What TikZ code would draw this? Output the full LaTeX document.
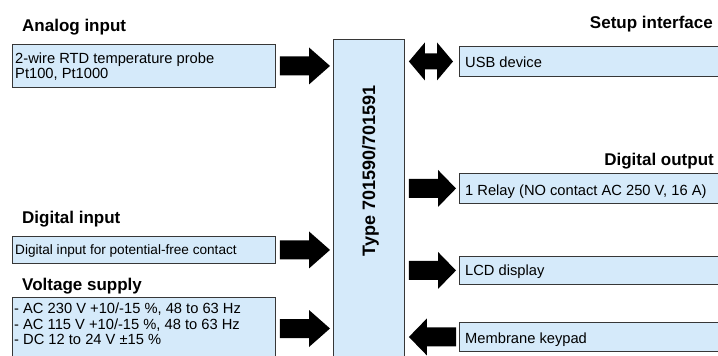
\documentclass[tikz,border=0pt]{standalone}
\usepackage{fontspec}
\setmainfont{Liberation Sans}
\usetikzlibrary{calc}
\definecolor{lblue}{RGB}{213,234,250}
\definecolor{bord}{RGB}{55,55,55}
\def\sh{9.5pt}\def\hh{18.5pt}
\tikzset{
  box/.style={draw=bord, fill=lblue, line width=0.9pt, rectangle, inner sep=0pt, anchor=north west},
  txt/.style={inner sep=0pt, anchor=base west, align=left, font=\fontsize{14.7}{15.5}\selectfont},
  stxt/.style={inner sep=0pt, anchor=base west, font=\fontsize{13.6}{15}\selectfont},
  head/.style={inner sep=0pt, font=\fontsize{17}{20}\selectfont\bfseries},
  rarr/.style={to path={let \p1=($(\tikztostart)+(4pt,0)$), \p2=($(\tikztotarget)-(3pt,0)$) in
    (\x1,\y1+\sh) -- (\x2-#1,\y1+\sh) -- (\x2-#1,\y1+\hh) -- (\x2,\y1) -- (\x2-#1,\y1-\hh) -- (\x2-#1,\y1-\sh) -- (\x1,\y1-\sh) -- cycle}},
  larr/.style={to path={let \p1=($(\tikztostart)-(3pt,0)$), \p2=($(\tikztotarget)+(4pt,0)$) in
    (\x1,\y1+\sh) -- (\x2+#1,\y1+\sh) -- (\x2+#1,\y1+\hh) -- (\x2,\y1) -- (\x2+#1,\y1-\hh) -- (\x2+#1,\y1-\sh) -- (\x1,\y1-\sh) -- cycle}},
  lrarr/.style={to path={let \p1=($(\tikztostart)+(4pt,0)$), \p2=($(\tikztotarget)-(6pt,0)$) in
    (\x1,\y1) -- (\x1+#1,\y1+19pt) -- (\x1+#1,\y1+8pt) -- (\x2-#1,\y1+8pt) -- (\x2-#1,\y1+19pt) -- (\x2,\y1) -- (\x2-#1,\y1-19pt) -- (\x2-#1,\y1-8pt) -- (\x1+#1,\y1-8pt) -- (\x1+#1,\y1-19pt) -- cycle}},
  blk/.style={fill=black}
}
\begin{document}
\begin{tikzpicture}[x=1pt,y=-1pt]
\useasboundingbox (0,0) rectangle (718,356);
\clip (0,0) rectangle (718,356);
% boxes
\node[box, minimum width=263pt, minimum height=43pt] (ana) at (12,44) {};
\node[box, minimum width=263pt, minimum height=27pt] (din) at (12,236) {};
\node[box, minimum width=263pt, minimum height=80pt] (vol) at (12,297) {};
\node[box, minimum width=71pt, minimum height=340pt] (dev) at (333,39) {};
\node[box, minimum width=300pt, minimum height=30pt] (usb) at (459,46) {};
\node[box, minimum width=300pt, minimum height=30pt] (rel) at (459,173) {};
\node[box, minimum width=300pt, minimum height=28pt] (lcd) at (459,256) {};
\node[box, minimum width=300pt, minimum height=29pt] (key) at (459,322) {};
% headings
\node[head, anchor=base west] (hana) at (22,31) {Analog input};
\node[head, anchor=base west] (hdin) at (22,223) {Digital input};
\node[head, anchor=base west] (hvol) at (22,290) {Voltage supply};
\node[head, anchor=base east] (hset) at (713,28) {Setup interface};
\node[head, anchor=base east] (hdout) at (714,165) {Digital output};
% texts (multi-line: base = last line)
\node[txt] (tana) at (15,78.5) {2-wire RTD temperature probe\\Pt100, Pt1000};
\node[stxt] (tdin) at (15,254) {Digital input for potential-free contact};
\node[txt] (tvol) at (14,344.5) {- AC 230 V +10/-15 \%, 48 to 63 Hz\\- AC 115 V +10/-15 \%, 48 to 63 Hz\\- DC 12 to 24 V ±15 \%};
\node[txt] (tusb) at (465,67) {USB device};
\node[txt] (trel) at (465,195) {1 Relay (NO contact AC 250 V, 16 A)};
\node[txt] (tlcd) at (465,275) {LCD display};
\node[txt] (tkey) at (465,343) {Membrane keypad};
\node[inner sep=0pt, rotate=90, anchor=base, font=\fontsize{18}{20}\selectfont\bfseries] (tdev) at (375,171) {Type 701590/701591};
% arrows
\coordinate (volout) at ($(vol.north east)+(0,31.5)$);
\fill[blk] (ana.east) to[rarr=21pt] (ana.east -| dev.west);
\fill[blk] (din.east) to[rarr=21pt] (din.east -| dev.west);
\fill[blk] (volout) to[rarr=21pt] (volout -| dev.west);
\fill[blk] (dev.east |- usb.west) to[lrarr=16pt] (usb.west);
\fill[blk] (dev.east |- rel.west) to[rarr=18pt] (rel.west);
\fill[blk] (dev.east |- lcd.west) to[rarr=18pt] (lcd.west);
\fill[blk] (key.west) to[larr=18pt] (key.west -| dev.east);
\end{tikzpicture}
\end{document}
